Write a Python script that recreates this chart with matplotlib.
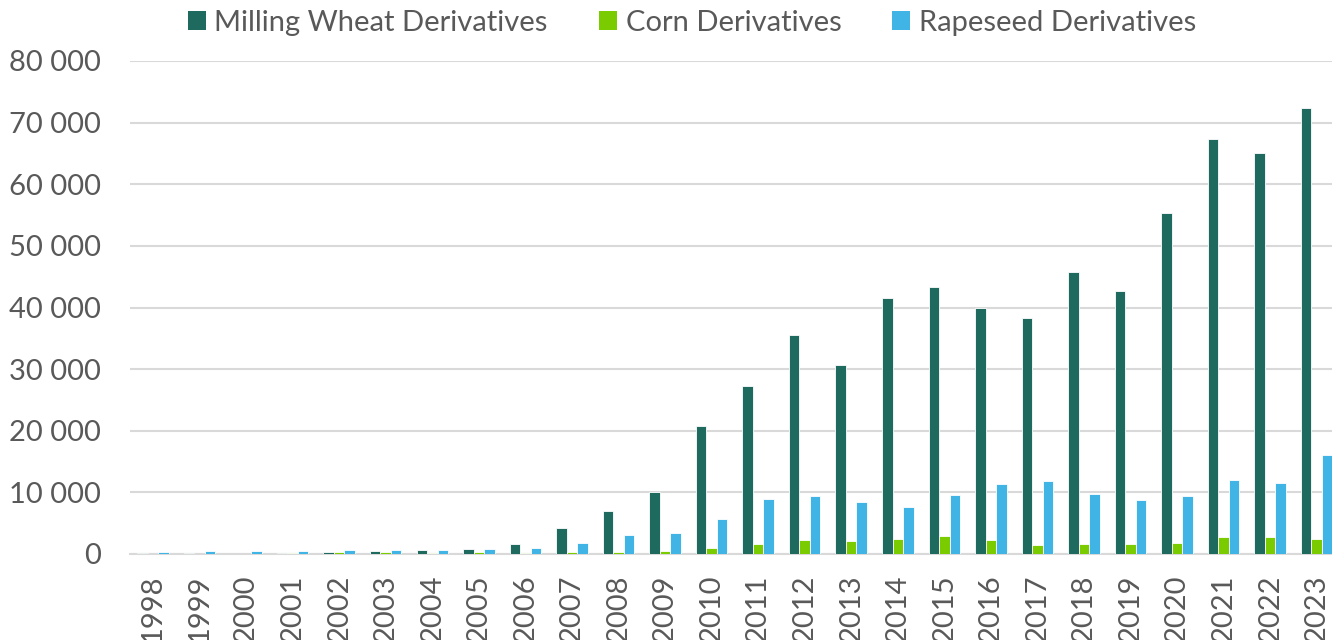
import matplotlib
matplotlib.use("Agg")
import matplotlib.pyplot as plt
import numpy as np
from matplotlib.ticker import FuncFormatter

years = [str(y) for y in range(1998, 2024)]
wheat = [100, 100, 50, 160, 380, 490, 650, 810, 1680, 4290, 6960, 10100,
         20850, 27300, 35600, 30650, 41500, 43300, 39900, 38250, 45800,
         42700, 55400, 67300, 65000, 72400]
corn = [0, 0, 30, 160, 380, 330, 220, 380, 220, 330, 330, 490,
        980, 1630, 2280, 2070, 2450, 2940, 2280, 1520, 1630,
        1580, 1790, 2770, 2770, 2450]
rapeseed = [320, 490, 490, 490, 650, 650, 650, 810, 980, 1800, 3100, 3430,
            5650, 8970, 9400, 8430, 7610, 9620, 11360, 11800, 9730,
            8810, 9460, 11960, 11530, 16040]
series_names = ["Milling Wheat Derivatives", "Corn Derivatives", "Rapeseed Derivatives"]
colors = ["#1F6A5E", "#7ACC00", "#41B4E6"]

plt.rcParams['font.family'] = ['Lato', 'DejaVu Sans']
text_color = "#595959"

fig = plt.figure(figsize=(13.32, 6.4), dpi=100)
ax = fig.add_axes([129.7/1332, 1-554/640, (1340-129.7)/1332, (554-61)/640])

x = np.arange(len(years))
w = 0.2255
for i, (vals, name, c) in enumerate(zip([wheat, corn, rapeseed], series_names, colors)):
    ax.bar(x + (i-1)*w, vals, width=w, color=c, edgecolor="white",
           linewidth=0.6, label=name, zorder=3)

ax.set_xlim(-0.5, len(years)-0.5)
ax.set_ylim(0, 80000)
ax.set_yticks(np.arange(0, 80001, 10000))
ax.yaxis.set_major_formatter(FuncFormatter(lambda v, p: f"{int(v):,}".replace(",", " ")))
ax.set_xticks(x)
ax.set_xticklabels(years, rotation=90)
ax.tick_params(axis='both', length=0, labelsize=21, colors=text_color)
ax.tick_params(axis='y', pad=21)
ax.tick_params(axis='x', pad=15)
ax.grid(axis='y', color="#D9D9D9", linewidth=1.5, zorder=0)
for s in ["top", "right", "left"]:
    ax.spines[s].set_visible(False)
ax.spines["bottom"].set_color("#D9D9D9")
ax.spines["bottom"].set_linewidth(1.5)

leg = fig.legend(loc="center", bbox_to_anchor=(692/1332, 1-23/640), ncol=3,
                 frameon=False, fontsize=21, handlelength=0.62, handleheight=0.62,
                 handletextpad=0.3, columnspacing=1.75, borderaxespad=0,
                 borderpad=0)
for t in leg.get_texts():
    t.set_color(text_color)
for h in leg.legend_handles:
    h.set_edgecolor("none")

fig.savefig("out.png", dpi=100)
